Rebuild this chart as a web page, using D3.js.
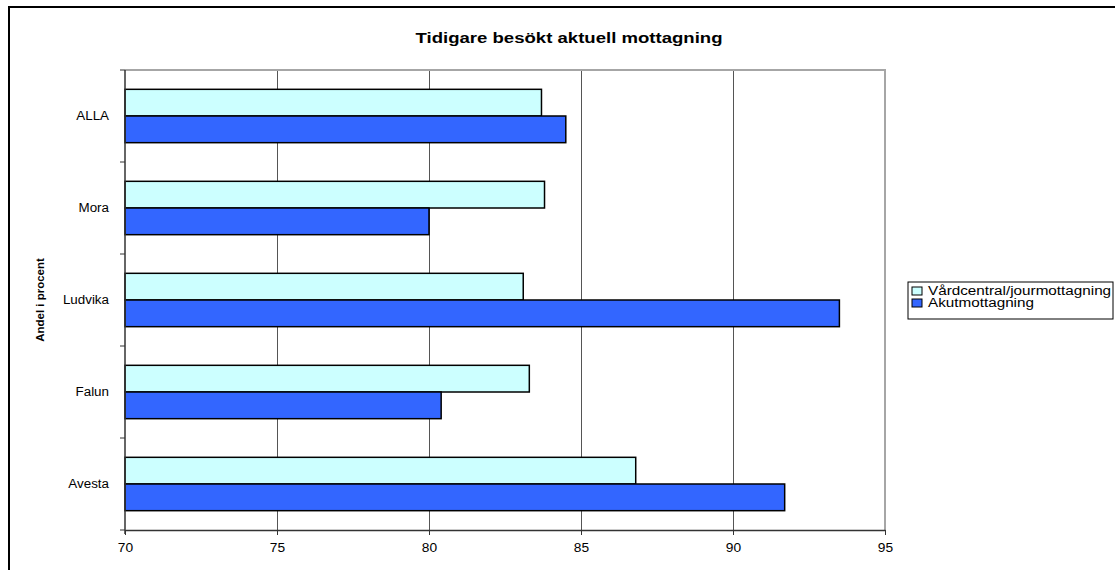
<!DOCTYPE html>
<html>
<head>
<meta charset="utf-8">
<script src="https://cdn.jsdelivr.net/npm/d3@7"></script>
<style>
  html, body { margin: 0; padding: 0; background: #fff; }
  svg { display: block; font-family: "Liberation Sans", Arial, sans-serif; }
</style>
</head>
<body>
<svg id="chart" width="1115" height="570"></svg>
<script>
// Share of patients who had visited the same clinic before, by site
const categories = ["ALLA", "Mora", "Ludvika", "Falun", "Avesta"];
const seriesNames = ["Vårdcentral/jourmottagning", "Akutmottagning"];
const vardcentral = [83.7, 83.8, 83.1, 83.3, 86.8];
const akut = [84.5, 80.0, 93.5, 80.4, 91.7];
const xTicks = [70, 75, 80, 85, 90, 95];
const colors = ["#CCFFFF", "#3366FF"];

const title = "Tidigare besökt aktuell mottagning";
const yTitle = "Andel i procent";

const svg = d3.select("#chart");
const plot = { left: 125, right: 885, top: 70, bottom: 530 };

// Widen text horizontally (the chart uses a wide, stretched type)
function stretch(sel, sx) {
  sel.each(function () {
    const w = this.getComputedTextLength();
    d3.select(this).attr("textLength", w * sx).attr("lengthAdjust", "spacingAndGlyphs");
  });
}

// outer chart frame
svg.append("rect")
  .attr("x", 9).attr("y", 7)
  .attr("width", 1200).attr("height", 700)
  .attr("fill", "none").attr("stroke", "#000").attr("stroke-width", 2);

const x = d3.scaleLinear().domain([70, 95]).range([plot.left, plot.right]);
const y = d3.scaleBand().domain(categories).range([plot.top, plot.bottom]).paddingInner(0.42).paddingOuter(0.21);
const ySub = d3.scaleBand().domain(seriesNames).range([0, y.bandwidth()]);

// vertical gridlines
svg.append("g")
  .selectAll("line")
  .data(xTicks.slice(1, -1))
  .join("line")
  .attr("x1", d => x(d)).attr("x2", d => x(d))
  .attr("y1", plot.top).attr("y2", plot.bottom)
  .attr("stroke", "#555").attr("stroke-width", 1)
  .attr("shape-rendering", "crispEdges");

// plot area border (top and right)
svg.append("path")
  .attr("d", `M${plot.left},${plot.top}H${plot.right}V${plot.bottom}`)
  .attr("fill", "none").attr("stroke", "#a6a6a6").attr("stroke-width", 2);

// bars
const rows = categories.map((c, i) => ({ cat: c, values: [vardcentral[i], akut[i]] }));
const groups = svg.append("g").selectAll("g")
  .data(rows)
  .join("g")
  .attr("transform", d => `translate(0,${y(d.cat)})`);

groups.selectAll("rect")
  .data(d => d.values.map((v, j) => ({ name: seriesNames[j], v, j })))
  .join("rect")
  .attr("x", x(70))
  .attr("y", d => ySub(d.name))
  .attr("width", d => x(d.v) - x(70))
  .attr("height", ySub.bandwidth())
  .attr("fill", d => colors[d.j])
  .attr("stroke", "#000").attr("stroke-width", 1.5);

// x axis
const xAxis = svg.append("g")
  .attr("transform", `translate(0,${plot.bottom})`)
  .call(d3.axisBottom(x).tickValues(xTicks).tickSize(5).tickSizeOuter(0).tickPadding(8));
xAxis.select(".domain").attr("stroke", "#333").attr("stroke-width", 1.5);
xAxis.selectAll(".tick line").attr("stroke", "#333");
xAxis.selectAll("text").attr("font-size", 12.5).attr("fill", "#000")
  .attr("font-family", "Liberation Sans, Arial, sans-serif")
  .call(stretch, 1.1);

// y axis with ticks at the band boundaries
const yAxisG = svg.append("g").attr("transform", `translate(${plot.left},0)`);
yAxisG.append("line")
  .attr("x1", 0).attr("x2", 0).attr("y1", plot.top).attr("y2", plot.bottom + 4)
  .attr("stroke", "#333").attr("stroke-width", 1.5);
const step = y.step();
const boundaries = d3.range(categories.length + 1).map(i => plot.top + i * step);
yAxisG.selectAll(".bt")
  .data(boundaries)
  .join("line")
  .attr("class", "bt")
  .attr("x1", -5).attr("x2", 0)
  .attr("y1", d => d).attr("y2", d => d)
  .attr("stroke", "#333").attr("stroke-width", 1);
yAxisG.selectAll(".cl")
  .data(categories)
  .join("text")
  .attr("class", "cl")
  .attr("x", -16)
  .attr("y", d => y(d) + y.bandwidth() / 2)
  .attr("dy", "0.35em")
  .attr("text-anchor", "end")
  .attr("font-size", 12.5)
  .text(d => d)
  .call(stretch, 1.07);

// axis title
svg.append("text")
  .attr("transform", `translate(44,${(plot.top + plot.bottom) / 2}) rotate(-90)`)
  .attr("text-anchor", "middle")
  .attr("font-size", 11.5).attr("font-weight", "bold")
  .text(yTitle)
  .call(stretch, 1.0);

// chart title
svg.append("text")
  .attr("x", 569).attr("y", 43)
  .attr("text-anchor", "middle")
  .attr("font-size", 14.5).attr("font-weight", "bold")
  .text(title)
  .call(stretch, 1.28);

// legend
const legend = svg.append("g").attr("transform", "translate(908,282)");
legend.append("rect")
  .attr("width", 205).attr("height", 37)
  .attr("fill", "#fff").attr("stroke", "#000").attr("stroke-width", 1);
const li = legend.selectAll(".li")
  .data(seriesNames)
  .join("g")
  .attr("class", "li")
  .attr("transform", (d, i) => `translate(4,${9 + i * 12})`);
li.append("rect")
  .attr("y", -4).attr("width", 10).attr("height", 8)
  .attr("fill", (d, i) => colors[i]).attr("stroke", "#000").attr("stroke-width", 1);
li.append("text")
  .attr("x", 16).attr("dy", "0.35em")
  .attr("font-size", 12.5)
  .text(d => d)
  .call(stretch, 1.22);
</script>
</body>
</html>
